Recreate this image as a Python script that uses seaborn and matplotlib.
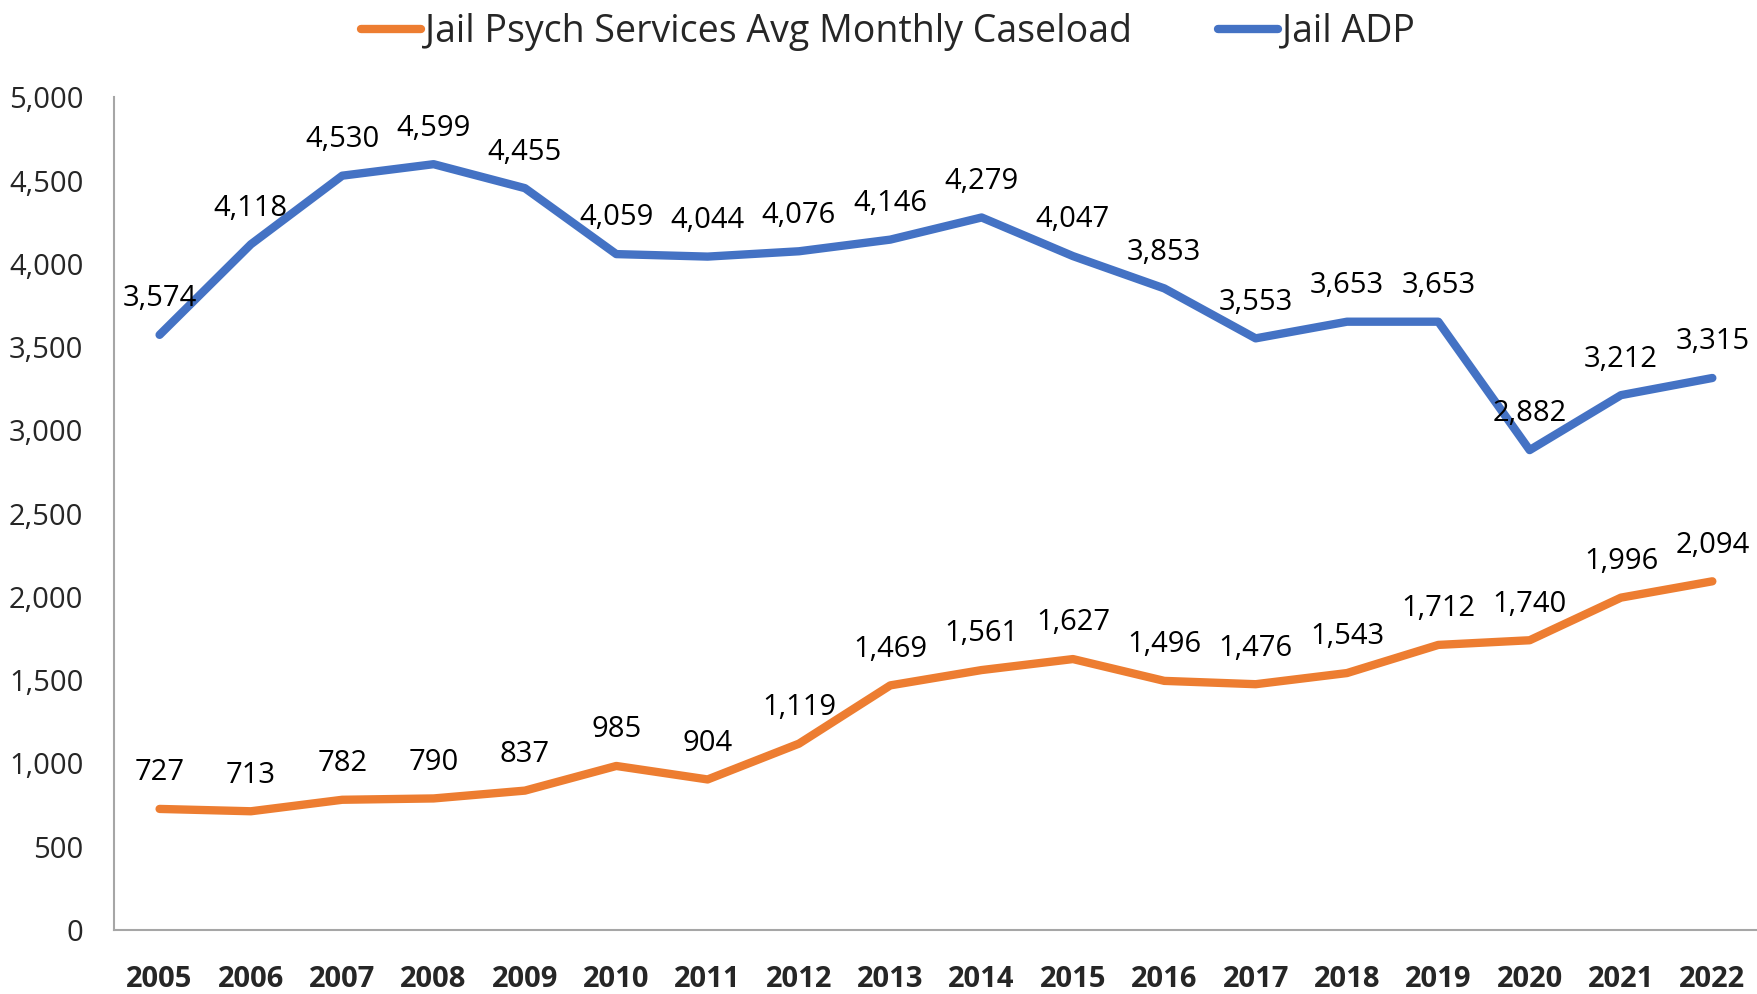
import pandas as pd
import numpy as np
import matplotlib
matplotlib.use("Agg")
import matplotlib.pyplot as plt
import seaborn as sns
from matplotlib.ticker import FuncFormatter

years = [str(y) for y in range(2005, 2023)]
psych_caseload = [727, 713, 782, 790, 837, 985, 904, 1119, 1469, 1561,
                  1627, 1496, 1476, 1543, 1712, 1740, 1996, 2094]
jail_adp = [3574, 4118, 4530, 4599, 4455, 4059, 4044, 4076, 4146, 4279,
            4047, 3853, 3553, 3653, 3653, 2882, 3212, 3315]
series_names = ["Jail Psych Services Avg Monthly Caseload", "Jail ADP"]
colors = ["#ED7D31", "#4472C4"]

df = pd.DataFrame({
    "year": years * 2,
    "value": psych_caseload + jail_adp,
    "series": [series_names[0]] * len(years) + [series_names[1]] * len(years),
})

sns.set_theme(style="white")
plt.rcParams['font.family'] = ['Open Sans', 'DejaVu Sans']

fig = plt.figure(figsize=(17.58, 9.94), dpi=100)
ax = fig.add_axes([0.0648, 0.0644, 0.9352, 0.8376])

sns.lineplot(data=df, x="year", y="value", hue="series", palette=colors,
             hue_order=series_names, linewidth=6, ax=ax, sort=False)
for line in ax.lines:
    line.set_solid_capstyle("round")
    line.set_solid_joinstyle("round")

# data labels above each point
for vals in (psych_caseload, jail_adp):
    for i, v in enumerate(vals):
        ax.annotate(f"{v:,}", (i, v), xytext=(0, 26), textcoords="offset points",
                    ha="center", va="center", fontsize=21, color="black")

ax.set_xlim(-0.5, len(years) - 0.5)
ax.set_ylim(0, 5000)
ax.set_yticks(range(0, 5001, 500))
ax.yaxis.set_major_formatter(FuncFormatter(lambda v, p: f"{int(v):,}"))
ax.tick_params(axis="y", labelsize=21, length=0, pad=22)
ax.tick_params(axis="x", labelsize=21, length=0, pad=25)
for lbl in ax.get_xticklabels():
    lbl.set_fontweight("bold")
ax.set_xlabel("")
ax.set_ylabel("")

for side in ("top", "right"):
    ax.spines[side].set_visible(False)
for side in ("left", "bottom"):
    ax.spines[side].set_color("#A6A6A6")
    ax.spines[side].set_linewidth(1.5)

handles, labels = ax.get_legend_handles_labels()
ax.legend(handles, labels, loc="center", bbox_to_anchor=(0.505, 0.968),
          bbox_transform=fig.transFigure, ncol=2, frameon=False, fontsize=27,
          handlelength=1.6, handletextpad=0.1, columnspacing=2.3)

fig.savefig("out.png", dpi=100)
